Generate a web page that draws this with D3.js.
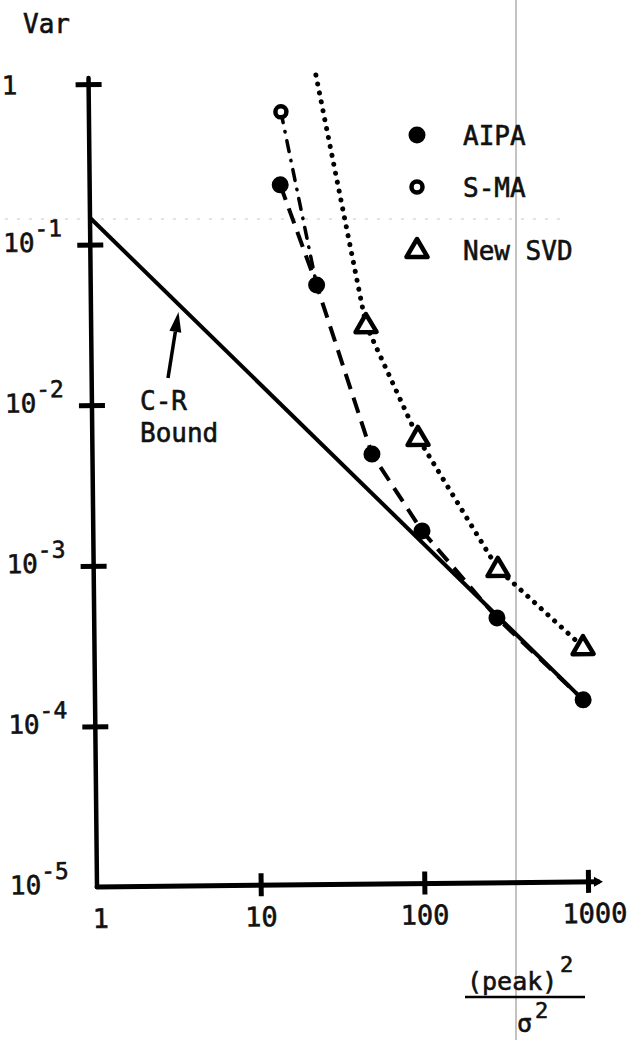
<!DOCTYPE html>
<html>
<head>
<meta charset="utf-8">
<script src="https://cdn.jsdelivr.net/npm/d3@7"></script>
<style>
  body { margin: 0; background: #fff; }
  svg { display: block; }
  text { font-family: "DejaVu Sans Mono", monospace; fill: #111; stroke: #111; stroke-width: 0.6px; }
</style>
</head>
<body>
<script>
// ------------------------------------------------------------------ //
// Data

var xTicks = [1, 10, 100, 1000];
var yTicks = [1, 1e-1, 1e-2, 1e-3, 1e-4, 1e-5];
var yTickBase = ['1', '10', '10', '10', '10', '10'];
var yTickExp = ['', '-1', '-2', '-3', '-4', '-5'];

var boundSnr = [1, 960];
var boundVar = [0.147, 0.000136];

var aipaSnr = [14.6, 24, 51, 102, 289, 960];
var aipaVar = [0.229, 0.0542, 0.00476, 0.00157, 0.000446, 0.000136];

var smaSnr = [14.9, 24];
var smaVar = [0.652, 0.0542];

var svdSnr = [24.5, 47.8, 97.7, 295, 966];
var svdVar = [1.10, 0.0303, 0.00596, 0.00090, 0.00029];
var svdMarked = [false, true, true, true, true];

var legendNames = ['AIPA', 'S-MA', 'New SVD'];
var legendShapes = ['dot', 'ring', 'tri'];

// ------------------------------------------------------------------ //
// Setup

var width = 632, height = 1040;

var svg = d3.select('body').append('svg').attr('width', width).attr('height', height);
svg.append('rect').attr('width', width).attr('height', height).attr('fill', '#fff');

var x = d3.scaleLog().domain([1, 1000]).range([97, 588]);
var y = d3.scaleLog().domain([1e-5, 1]).range([887, 84]);

var pts = (xs, ys) => xs.map((v, i) => [v, ys[i]]);
var line_gen = d3.line().x((d) => x(d[0])).y((d) => y(d[1]));

// scan artefacts: faint rule and the gray fold line
svg.append('line')
  .attr('x1', 5).attr('x2', 560).attr('y1', 219).attr('y2', 219)
  .attr('stroke', '#c8c8c8').attr('stroke-width', 1.2).attr('stroke-dasharray', '3,9');
svg.append('line')
  .attr('x1', 516).attr('x2', 516).attr('y1', 0).attr('y2', height)
  .attr('stroke', '#9a9a9a').attr('stroke-width', 1.2);

// the scan is turned a little, so the plot is too
var plot = svg.append('g').attr('transform', 'rotate(-0.6,97,887)');

// ------------------------------------------------------------------ //
// Axes

var yAxis = plot.append('g').attr('transform', 'translate(' + x(1) + ',0)')
  .call(d3.axisLeft(y).tickValues(yTicks).tickSizeOuter(0).tickFormat(''));
yAxis.select('.domain').remove();
yAxis.selectAll('.tick line')
  .attr('x1', -13).attr('x2', 13).attr('stroke', '#000').attr('stroke-width', 5)
  .filter((d) => d === 1e-5).remove();
yAxis.selectAll('.tick text').each(function(d, i){
  var t = d3.select(this).text(null)
    .attr('x', -87).attr('dy', null).attr('y', i === 0 ? 9 : 6)
    .attr('text-anchor', 'start').attr('font-size', 26);
  t.append('tspan').text(yTickBase[i]);
  if(yTickExp[i]) t.append('tspan').attr('dy', -15).attr('font-size', 23).text(yTickExp[i]);
});

var xAxis = plot.append('g').attr('transform', 'translate(0,' + y(1e-5) + ')')
  .call(d3.axisBottom(x).tickValues(xTicks).tickSizeOuter(0).tickFormat(d3.format('d')));
xAxis.select('.domain').remove();
xAxis.selectAll('.tick line')
  .attr('y1', -12).attr('y2', 11).attr('stroke', '#000').attr('stroke-width', 5)
  .filter((d) => d === 1).remove();
xAxis.selectAll('.tick text')
  .attr('x', (d) => d === 1 ? 3 : (d === 1000 ? 6 : 0))
  .attr('y', 41).attr('dy', null).attr('font-size', 27);

plot.append('line')
  .attr('x1', x(1)).attr('x2', x(1)).attr('y1', y(1e-5)).attr('y2', y(1) - 6)
  .attr('stroke', '#000').attr('stroke-width', 4.5).attr('stroke-linecap', 'round');
plot.append('line')
  .attr('x1', x(1)).attr('x2', x(1000) + 10).attr('y1', y(1e-5)).attr('y2', y(1e-5))
  .attr('stroke', '#000').attr('stroke-width', 5).attr('stroke-linecap', 'round');
plot.append('path')
  .attr('d', 'M' + (x(1000) + 6) + ',' + (y(1e-5) - 5) + 'L' + (x(1000) + 15) + ',' + y(1e-5) + 'L' + (x(1000) + 6) + ',' + (y(1e-5) + 5) + 'Z')
  .attr('fill', '#000');

// ------------------------------------------------------------------ //
// Curves

plot.append('path').datum(pts(boundSnr, boundVar)).attr('d', line_gen)
  .attr('fill', 'none').attr('stroke', '#000').attr('stroke-width', 4);

plot.append('path').datum(pts(aipaSnr, aipaVar)).attr('d', line_gen)
  .attr('fill', 'none').attr('stroke', '#000').attr('stroke-width', 4)
  .attr('stroke-dasharray', '16,9');

plot.append('path').datum(pts(smaSnr, smaVar)).attr('d', line_gen)
  .attr('fill', 'none').attr('stroke', '#000').attr('stroke-width', 3.5)
  .attr('stroke-linecap', 'round').attr('stroke-dasharray', '11,9,0.5,9');

plot.append('path').datum(pts(svdSnr, svdVar)).attr('d', line_gen)
  .attr('fill', 'none').attr('stroke', '#000').attr('stroke-width', 5)
  .attr('stroke-linecap', 'round').attr('stroke-dasharray', '0.1,9');

// ------------------------------------------------------------------ //
// Markers

var triPath = 'M0,-11L10.5,7L-10.5,7Z';

function drawShape(sel, shape){
  if(shape === 'dot') sel.append('circle').attr('r', 8.5).attr('fill', '#000');
  else if(shape === 'ring') sel.append('circle').attr('r', 5.5).attr('fill', '#fff').attr('stroke', '#000').attr('stroke-width', 4.5);
  else sel.append('path').attr('d', triPath).attr('fill', '#fff').attr('stroke', '#000')
    .attr('stroke-width', 4.5).attr('stroke-linejoin', 'round');
}

plot.selectAll('.sma').data(pts(smaSnr, smaVar)).join('g').attr('class', 'sma')
  .attr('transform', (d) => 'translate(' + x(d[0]) + ',' + y(d[1]) + ')')
  .each(function(){ drawShape(d3.select(this), 'ring'); });

plot.selectAll('.aipa').data(pts(aipaSnr, aipaVar)).join('g').attr('class', 'aipa')
  .attr('transform', (d) => 'translate(' + x(d[0]) + ',' + y(d[1]) + ')')
  .each(function(){ drawShape(d3.select(this), 'dot'); });

plot.selectAll('.svd').data(pts(svdSnr, svdVar).filter((d, i) => svdMarked[i])).join('g').attr('class', 'svd')
  .attr('transform', (d) => 'translate(' + x(d[0]) + ',' + y(d[1]) + ')')
  .each(function(){ drawShape(d3.select(this), 'tri'); });

// ------------------------------------------------------------------ //
// Legend

var legendY = [135, 187, 250];
var legend = svg.selectAll('.legend').data(legendNames).join('g').attr('class', 'legend')
  .attr('transform', (d, i) => 'translate(417,' + legendY[i] + ')');
legend.each(function(d, i){ drawShape(d3.select(this), legendShapes[i]); });
legend.append('text').attr('x', 46).attr('y', 10).attr('font-size', 26).text((d) => d);

// ------------------------------------------------------------------ //
// Labels and annotation

svg.append('text').attr('x', 23).attr('y', 33).attr('font-size', 26).text('Var');

var tail = [168, 378], tip = [178.5, 312];
var dir = [tip[0] - tail[0], tip[1] - tail[1]];
var len = Math.hypot(dir[0], dir[1]);
dir = [dir[0] / len, dir[1] / len];
var base = [tip[0] - 20 * dir[0], tip[1] - 20 * dir[1]];
svg.append('line')
  .attr('x1', tail[0]).attr('y1', tail[1]).attr('x2', base[0]).attr('y2', base[1])
  .attr('stroke', '#000').attr('stroke-width', 3.5);
svg.append('path')
  .attr('d', 'M' + tip + 'L' + [base[0] - 6 * dir[1], base[1] + 6 * dir[0]] + 'L' + [base[0] + 6 * dir[1], base[1] - 6 * dir[0]] + 'Z')
  .attr('fill', '#000');
svg.append('text').attr('x', 140).attr('y', 410).attr('font-size', 26).text('C-R');
svg.append('text').attr('x', 140).attr('y', 442).attr('font-size', 26).text('Bound');

var title = svg.append('g');
title.append('text').attr('x', 467).attr('y', 990).attr('font-size', 25).text('(peak)');
title.append('text').attr('x', 560).attr('y', 972).attr('font-size', 22).text('2');
title.append('line').attr('x1', 465).attr('x2', 585).attr('y1', 997).attr('y2', 997)
  .attr('stroke', '#000').attr('stroke-width', 2.5);
title.append('text').attr('x', 517).attr('y', 1032).attr('font-size', 25).text('σ');
title.append('text').attr('x', 535).attr('y', 1018).attr('font-size', 22).text('2');
</script>
</body>
</html>
